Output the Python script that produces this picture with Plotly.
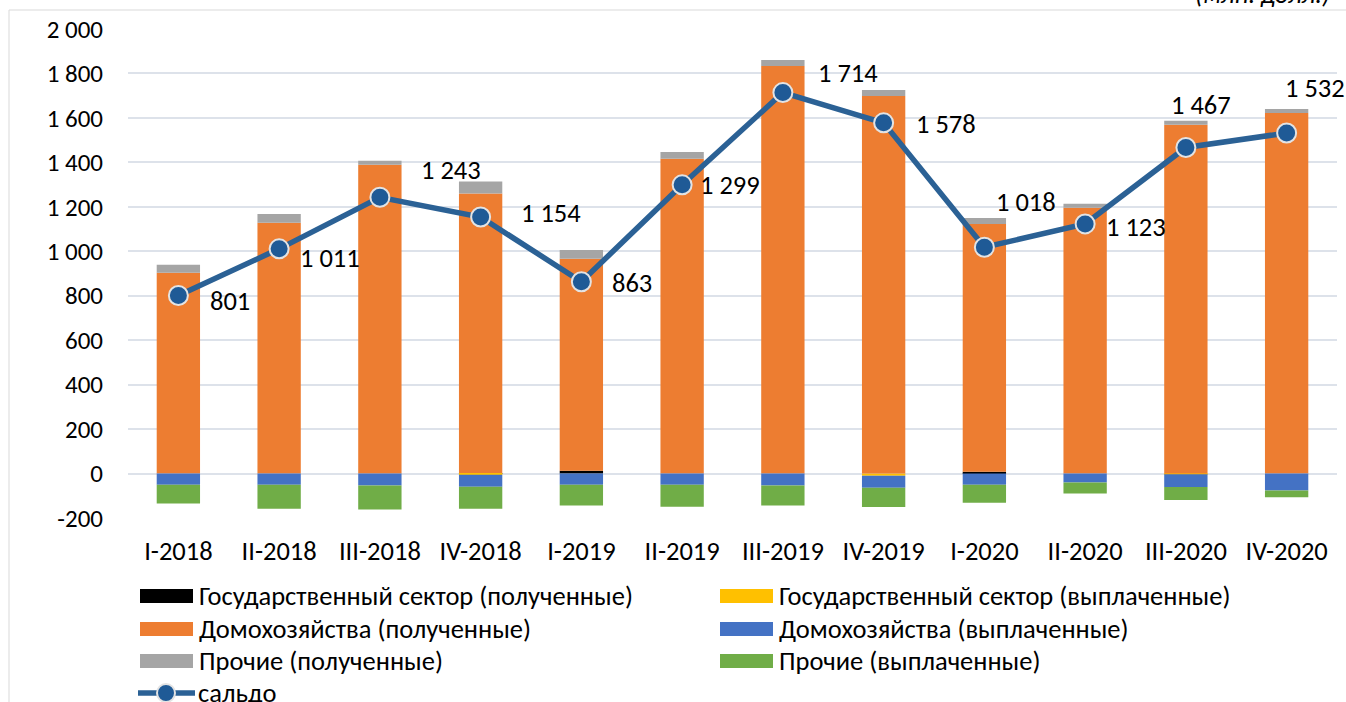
import plotly.graph_objects as go

quarters = ["I-2018", "II-2018", "III-2018", "IV-2018", "I-2019", "II-2019",
            "III-2019", "IV-2019", "I-2020", "II-2020", "III-2020", "IV-2020"]

gov_received = [0, 0, 0, 2, 13, 0, 0, 0, 8, 0, 0, 0]
gov_paid = [0, 0, 0, -5, 0, 0, 0, -10, 0, 0, -3, 0]
hh_received = [903, 1128, 1389, 1258, 953, 1416, 1834, 1699, 1115, 1196, 1569, 1622]
hh_paid = [-50, -50, -54, -54, -50, -50, -54, -54, -50, -40, -58, -76]
other_received = [36, 40, 18, 54, 40, 31, 27, 27, 27, 18, 18, 18]
other_paid = [-85, -108, -108, -99, -94, -99, -90, -86, -81, -50, -58, -31]
saldo = [801, 1011, 1243, 1154, 863, 1299, 1714, 1578, 1018, 1123, 1467, 1532]

y_ticks = list(range(-200, 2001, 200))

names = [
    "Государственный сектор (полученные)",
    "Государственный сектор (выплаченные)",
    "Домохозяйства (полученные)",
    "Домохозяйства (выплаченные)",
    "Прочие (полученные)",
    "Прочие (выплаченные)",
]
colors = ["#000000", "#FFC000", "#ED7D31", "#4472C4", "#A5A5A5", "#70AD47"]
bar_series = [gov_received, gov_paid, hh_received, hh_paid, other_received, other_paid]

FONT = "Carlito, Calibri, Open Sans, sans-serif"
TXT = 26.5

# plot area in pixels (for paper conversions of decorations)
PX0, PW = 128, 1209
PY1, PH = 518, 489


def px(x):
    return (x - PX0) / PW


def py(y):
    return (PY1 - y) / PH


def fmt(v):
    return f"{v:,}".replace(",", " ")


fig = go.Figure()

for name, color, vals in zip(names, colors, bar_series):
    fig.add_trace(go.Bar(x=quarters, y=vals, name=name, marker_color=color,
                         marker_line_width=0, showlegend=False))

fig.add_trace(go.Scatter(
    x=quarters, y=saldo, name="сальдо", mode="lines+markers",
    line=dict(color="#2B6195", width=5.5),
    marker=dict(size=19, color="#1F5A96", line=dict(color="#E3E3E3", width=2)),
    showlegend=False,
))

# data label offsets (pixels) relative to each point
label_shift = [(52, -5), (51, -9), (71, 27), (70, 4), (51, -1), (48, 0),
               (65, 20), (62, -1), (42, 45), (51, -3), (15, 42), (28, 45)]
for q, v, (dx, dy) in zip(quarters, saldo, label_shift):
    fig.add_annotation(x=q, y=v, text=fmt(v), showarrow=False, xshift=dx, yshift=dy,
                       font=dict(family=FONT, size=TXT, color="#000000"))

# custom legend
legend_rows = [596, 629, 661]
for i, (name, color) in enumerate(zip(names, colors)):
    row = legend_rows[i // 2]
    sx = 140 if i % 2 == 0 else 720
    fig.add_shape(type="rect", xref="paper", yref="paper",
                  x0=px(sx), x1=px(sx + 53), y0=py(row + 7), y1=py(row - 7),
                  fillcolor=color, line_width=0)
    fig.add_annotation(xref="paper", yref="paper", x=px(sx + 57), y=py(row),
                       xanchor="left", yanchor="middle", text=name, showarrow=False,
                       font=dict(family=FONT, size=TXT, color="#000000"))

row = 693
fig.add_shape(type="line", xref="paper", yref="paper", x0=px(138), x1=px(195),
              y0=py(row), y1=py(row), line=dict(color="#2B6195", width=5.5))
fig.add_shape(type="circle", xref="paper", yref="paper", x0=px(157), x1=px(175),
              y0=py(row + 9), y1=py(row - 9), fillcolor="#1F5A96",
              line=dict(color="#E3E3E3", width=2))
fig.add_annotation(xref="paper", yref="paper", x=px(196), y=py(row),
                   xanchor="left", yanchor="middle", text="сальдо", showarrow=False,
                   font=dict(family=FONT, size=TXT, color="#000000"))

# units label, cut at top right
fig.add_annotation(xref="paper", yref="paper", x=px(1332), y=py(12),
                   xanchor="right", yanchor="bottom", text="(млн. долл.)", showarrow=False,
                   font=dict(family=FONT, size=TXT, color="#000000", style="italic"))

# outer frame
fig.add_shape(type="line", xref="paper", yref="paper", x0=px(9), x1=px(1346),
              y0=py(10), y1=py(10), line=dict(color="#D9D9D9", width=1))
fig.add_shape(type="line", xref="paper", yref="paper", x0=px(9), x1=px(9),
              y0=py(10), y1=py(702), line=dict(color="#D9D9D9", width=1))

fig.update_layout(
    barmode="relative",
    bargap=0.57,
    width=1346,
    height=702,
    margin=dict(l=PX0, r=1346 - PX0 - PW, t=PY1 - PH, b=702 - PY1),
    plot_bgcolor="white",
    paper_bgcolor="white",
    font=dict(family=FONT, size=TXT, color="#000000"),
    xaxis=dict(range=[-0.5, len(quarters) - 0.5], showgrid=False, showline=False,
               ticks="", ticklabelstandoff=14, tickfont=dict(size=TXT)),
    yaxis=dict(range=[-200, 2000], tickvals=y_ticks, ticktext=[fmt(v) for v in y_ticks],
               showgrid=True, gridcolor="#DDE2EA", gridwidth=2, zeroline=False,
               showline=False, ticks="", ticklabelstandoff=24, tickfont=dict(size=25)),
)

fig.write_html("out.html", config={"displayModeBar": False},
               post_script="document.body.style.margin='0';")
